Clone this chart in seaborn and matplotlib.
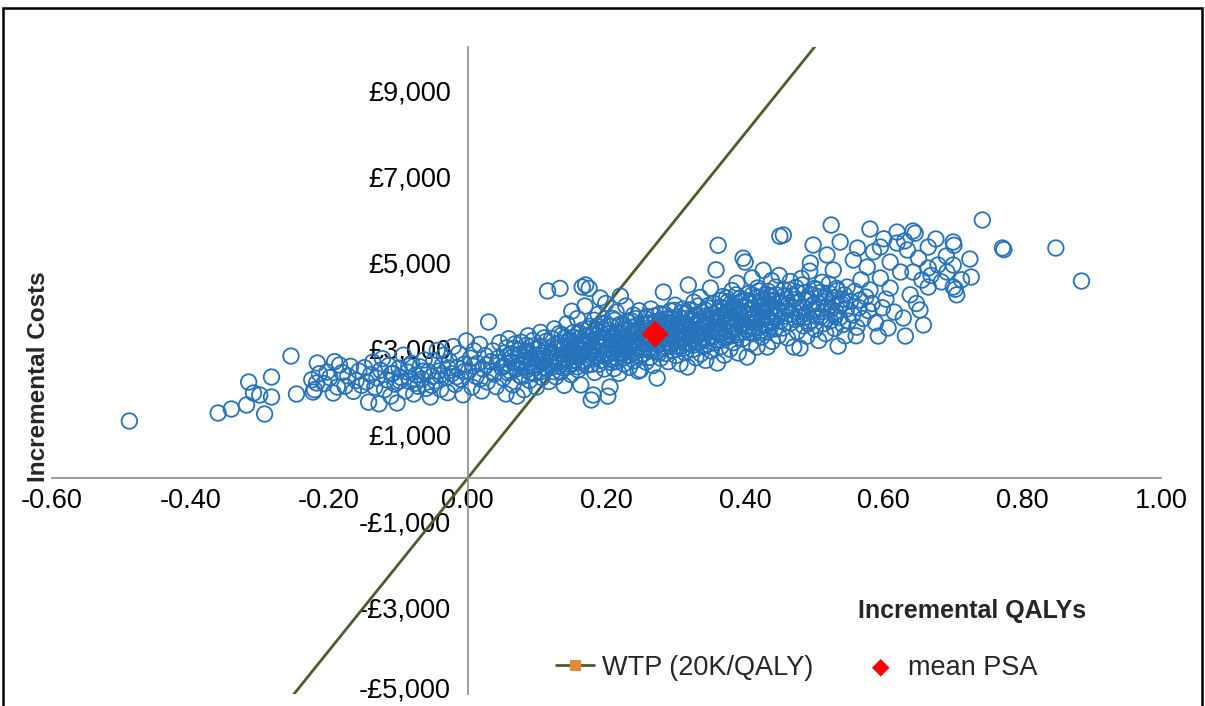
import pandas as pd
import matplotlib.pyplot as plt
import seaborn as sns
from matplotlib.patches import Rectangle
from matplotlib.ticker import FixedLocator
from matplotlib.transforms import ScaledTranslation

# PSA scatter (qaly, cost)
left_tail = [(-0.488, 1322), (-0.360, 1508), (-0.341, 1601), (-0.319, 1694), (-0.316, 2227),
             (-0.309, 1972), (-0.300, 1926), (-0.293, 1485), (-0.283, 2343), (-0.283, 1879),
             (-0.255, 2830), (-0.247, 1949), (-0.217, 2668), (-0.218, 2204), (-0.223, 1995),
             (-0.203, 2459), (-0.185, 2622), (-0.194, 1972), (-0.188, 2111)]

band_a = [(-0.225, 2280), (-0.221, 2050), (-0.214, 2420), (-0.207, 2190), (-0.199, 2330),
          (-0.192, 2700), (-0.181, 2450), (-0.177, 2130), (-0.173, 2370), (-0.169, 2590),
          (-0.165, 2010), (-0.161, 2260), (-0.157, 2480), (-0.153, 2150)]

band_b = [(-0.149, 2560), (-0.146, 2230), (-0.143, 1760), (-0.140, 2400), (-0.137, 2690),
          (-0.134, 2110), (-0.131, 2320), (-0.128, 1720), (-0.126, 2500), (-0.123, 2770),
          (-0.120, 2050), (-0.117, 2280), (-0.114, 2610), (-0.111, 1900), (-0.108, 2430),
          (-0.105, 2180), (-0.102, 1740), (-0.099, 2550), (-0.096, 2330), (-0.093, 2850),
          (-0.090, 2020), (-0.087, 2460), (-0.084, 2240), (-0.081, 2660), (-0.078, 1950),
          (-0.075, 2390), (-0.072, 2130), (-0.069, 2580), (-0.066, 2300), (-0.063, 2740),
          (-0.060, 2080), (-0.057, 2470), (-0.054, 1880), (-0.051, 2360)]

band_c = [(-0.049, 2720), (-0.047, 2250), (-0.044, 2960), (-0.042, 2480), (-0.039, 2060),
          (-0.037, 2610), (-0.034, 2850), (-0.031, 2330), (-0.029, 1980), (-0.026, 2700),
          (-0.023, 2420), (-0.021, 3050), (-0.018, 2170), (-0.015, 2560), (-0.013, 2890),
          (-0.010, 2290), (-0.007, 1930), (-0.005, 2640), (-0.002, 3180), (0.001, 2480),
          (0.004, 2780), (0.006, 2110), (0.009, 2950), (0.012, 2360), (0.014, 2660),
          (0.017, 3100), (0.020, 2020), (0.022, 2530), (0.025, 2840), (0.028, 2230),
          (0.030, 3620), (0.033, 2700), (0.036, 2950), (0.038, 2410), (0.041, 2120),
          (0.044, 2780), (0.046, 3140), (0.049, 2560)]

band_d = [(0.051, 2320), (0.053, 2900), (0.055, 1950), (0.057, 2650), (0.059, 3230),
          (0.061, 2480), (0.063, 2790), (0.065, 2160), (0.067, 3010), (0.069, 2570),
          (0.071, 1900), (0.073, 2860), (0.075, 2380), (0.077, 3150), (0.079, 2700),
          (0.081, 2050), (0.083, 2930), (0.085, 2510), (0.087, 3300), (0.089, 2260),
          (0.091, 2780), (0.093, 3060), (0.095, 2420), (0.097, 2640), (0.099, 2110),
          (0.101, 2990), (0.103, 2850), (0.105, 3380), (0.107, 2330), (0.109, 2720),
          (0.111, 2560), (0.113, 3170), (0.115, 4340), (0.117, 2240), (0.119, 2890)]

band_e = [(0.121, 3240), (0.122, 2570), (0.124, 2800), (0.125, 3460), (0.127, 2350),
          (0.128, 2990), (0.130, 2680), (0.131, 3130), (0.133, 4400), (0.134, 2460),
          (0.136, 3320), (0.137, 2870), (0.139, 2150), (0.140, 3050), (0.142, 2740),
          (0.143, 3580), (0.145, 2580), (0.146, 3210), (0.148, 2930), (0.149, 2400),
          (0.150, 3870), (0.152, 3370), (0.153, 2660), (0.155, 3090), (0.156, 2820),
          (0.158, 3700), (0.159, 2510), (0.161, 3240), (0.162, 2960), (0.163, 2160),
          (0.165, 3430), (0.166, 2730), (0.168, 3150), (0.169, 3990), (0.170, 4480),
          (0.171, 2610), (0.172, 3310), (0.174, 2880), (0.175, 4400), (0.176, 3520),
          (0.178, 1810), (0.179, 3060), (0.180, 2790), (0.182, 3660), (0.183, 2450),
          (0.185, 3200), (0.186, 2970), (0.188, 3800), (0.189, 2640), (0.191, 3380),
          (0.192, 3110), (0.194, 2860), (0.195, 3570), (0.197, 2530), (0.198, 3250),
          (0.199, 4050), (0.165, 4431), (0.191, 4176), (0.181, 1926)]

band_f = [(0.201, 2870), (0.202, 1900), (0.203, 3430), (0.205, 2110), (0.206, 3100),
          (0.207, 2680), (0.209, 3700), (0.210, 3290), (0.211, 2540), (0.213, 3010),
          (0.214, 3850), (0.215, 2790), (0.217, 3360), (0.218, 2430), (0.220, 4220),
          (0.221, 3160), (0.222, 2920), (0.224, 3560), (0.225, 2650), (0.226, 3240),
          (0.228, 3990), (0.229, 2830), (0.231, 3420), (0.232, 3070), (0.233, 2570),
          (0.235, 3650), (0.236, 3180), (0.237, 2960), (0.239, 3780), (0.240, 2720),
          (0.242, 3330), (0.243, 3520), (0.244, 3010), (0.246, 2480), (0.247, 3880),
          (0.249, 2510), (0.250, 3240), (0.252, 3450), (0.253, 2880), (0.254, 3110),
          (0.256, 3700), (0.257, 2690), (0.259, 3360), (0.260, 3560), (0.261, 3000),
          (0.263, 2800), (0.264, 3920), (0.266, 3230), (0.267, 2610), (0.268, 3470),
          (0.270, 3140), (0.271, 3620), (0.273, 2320), (0.274, 2950), (0.275, 3380),
          (0.277, 3810), (0.278, 2780), (0.279, 3260), (0.281, 3540), (0.282, 4315),
          (0.284, 3050), (0.285, 2890), (0.286, 3690), (0.288, 3310)]

band_g = [(0.289, 2700), (0.290, 3440), (0.292, 3880), (0.293, 3120), (0.295, 2960),
          (0.296, 3600), (0.297, 3280), (0.299, 4010), (0.300, 2840), (0.302, 3510),
          (0.303, 3190), (0.304, 3740), (0.306, 2650), (0.307, 3380), (0.308, 3060),
          (0.310, 3920), (0.311, 3570), (0.313, 2910), (0.314, 3240), (0.315, 3830),
          (0.317, 2575), (0.318, 4478), (0.319, 3420), (0.321, 3110), (0.322, 3680),
          (0.324, 2980), (0.325, 3550), (0.326, 4080), (0.328, 3300), (0.329, 2790),
          (0.330, 3760), (0.332, 3170), (0.333, 3460), (0.335, 4190), (0.336, 2880),
          (0.337, 3620), (0.339, 3350), (0.340, 3050), (0.342, 3900), (0.343, 2730),
          (0.344, 3520), (0.346, 3240), (0.347, 4000), (0.349, 3710), (0.350, 4408),
          (0.351, 2950), (0.353, 3430), (0.354, 3800), (0.355, 3140), (0.357, 3590),
          (0.358, 4830), (0.360, 2668), (0.361, 5400), (0.362, 3330), (0.364, 3960),
          (0.365, 3050), (0.366, 3680), (0.368, 4210), (0.369, 3480), (0.370, 2850)]

band_h = [(0.372, 3790), (0.373, 3260), (0.375, 4090), (0.376, 3550), (0.378, 2990),
          (0.379, 3870), (0.381, 4350), (0.382, 3410), (0.383, 3140), (0.385, 3970),
          (0.386, 3660), (0.388, 4520), (0.389, 3320), (0.390, 2900), (0.392, 3840),
          (0.393, 4170), (0.395, 3530), (0.396, 3230), (0.397, 5100), (0.399, 4000),
          (0.400, 5010), (0.401, 3700), (0.403, 2807), (0.404, 3440), (0.405, 4280),
          (0.407, 3910), (0.408, 3120), (0.410, 4640), (0.411, 3600), (0.412, 3350),
          (0.414, 4070), (0.415, 3790), (0.417, 3040), (0.418, 4410), (0.419, 3480),
          (0.421, 3950), (0.422, 4200), (0.424, 3270), (0.425, 3720), (0.426, 4820),
          (0.428, 3570), (0.429, 4030), (0.431, 3390), (0.432, 3039), (0.433, 4330),
          (0.435, 3850), (0.436, 3630), (0.438, 4580), (0.439, 3170), (0.440, 4120),
          (0.442, 3760), (0.443, 3460), (0.445, 4250), (0.446, 3920), (0.448, 3300),
          (0.449, 4700), (0.450, 5610), (0.451, 3640)]

band_i = [(0.452, 4060), (0.454, 3480), (0.455, 5638), (0.456, 4370), (0.458, 3760),
          (0.460, 4150), (0.461, 3250), (0.463, 3950), (0.465, 4560), (0.466, 3600),
          (0.468, 4230), (0.470, 3039), (0.471, 3870), (0.473, 4420), (0.475, 3400),
          (0.476, 4090), (0.478, 3730), (0.479, 3016), (0.481, 4630), (0.483, 3980),
          (0.484, 3530), (0.486, 4300), (0.488, 3820), (0.489, 3290), (0.491, 4160),
          (0.493, 4800), (0.494, 4988), (0.496, 3660), (0.498, 5406), (0.499, 4040),
          (0.501, 3450), (0.503, 4370), (0.504, 3900), (0.506, 3190), (0.508, 4200),
          (0.509, 3740), (0.511, 4540), (0.513, 3580), (0.514, 4080), (0.516, 3350),
          (0.518, 5174), (0.519, 3960), (0.521, 4290), (0.523, 3650), (0.524, 5870),
          (0.526, 4120), (0.527, 4826), (0.529, 3470), (0.531, 3860), (0.532, 4400),
          (0.534, 3062), (0.536, 3720), (0.537, 5475), (0.539, 4040), (0.541, 3560),
          (0.543, 4250), (0.544, 3300), (0.546, 3920), (0.547, 4431), (0.549, 3640)]

# the solid middle of the cloud
core_fill = [(-0.110, 2420), (-0.098, 2250), (-0.085, 2600), (-0.076, 2200), (-0.064, 2480),
             (-0.052, 2150), (-0.040, 2380), (-0.028, 2550), (-0.016, 2350), (-0.004, 2480),
             (0.008, 2600), (0.018, 2300), (0.027, 2620), (0.035, 2470), (0.043, 2680),
             (0.052, 2610), (0.056, 3020), (0.058, 2440), (0.062, 2870), (0.064, 2700),
             (0.068, 3110), (0.070, 2530), (0.074, 2960), (0.076, 2650), (0.078, 2350),
             (0.082, 2800), (0.084, 3080), (0.086, 2590), (0.088, 2920), (0.090, 2450),
             (0.092, 2690), (0.094, 3190), (0.096, 2840), (0.098, 2560), (0.100, 2760),
             (0.102, 2630), (0.104, 3060), (0.106, 2470), (0.108, 2900), (0.110, 3250),
             (0.112, 2780), (0.114, 2540), (0.116, 3020), (0.118, 2690), (0.120, 2910),
             (0.123, 2470), (0.126, 3100), (0.129, 2830), (0.132, 2600), (0.135, 3040),
             (0.138, 2760), (0.141, 3270), (0.144, 2900), (0.147, 2630), (0.150, 3120),
             (0.126, 2700), (0.132, 3350), (0.138, 2550), (0.144, 3150), (0.149, 2810),
             (0.151, 2990), (0.153, 2720), (0.154, 3260), (0.157, 3020), (0.158, 2580),
             (0.160, 3380), (0.161, 2850), (0.164, 3120), (0.166, 2990), (0.167, 2680),
             (0.169, 3280), (0.171, 3050), (0.173, 2780), (0.174, 3460), (0.176, 2920),
             (0.177, 3180), (0.179, 2640), (0.181, 3330), (0.182, 3010), (0.184, 2850),
             (0.186, 3520), (0.187, 3140), (0.189, 2900), (0.190, 3410), (0.192, 2730),
             (0.193, 3260), (0.195, 3040), (0.196, 2830), (0.198, 3600), (0.200, 3180),
             (0.201, 3340), (0.203, 2990), (0.204, 2760), (0.206, 3520), (0.207, 3230),
             (0.209, 2910), (0.210, 3080), (0.212, 3660), (0.213, 2700), (0.215, 3370),
             (0.216, 3150), (0.218, 2890), (0.219, 3560), (0.221, 3270), (0.222, 3040),
             (0.224, 2780), (0.225, 3460), (0.227, 3120), (0.228, 2950), (0.230, 3620),
             (0.231, 3290), (0.233, 3030), (0.234, 2840), (0.236, 3500), (0.237, 3360),
             (0.239, 3100), (0.240, 2920), (0.242, 3700), (0.243, 3220), (0.245, 3400),
             (0.247, 3060), (0.248, 2830), (0.251, 3580), (0.252, 3160), (0.254, 3320),
             (0.255, 2980), (0.257, 3480), (0.258, 3750), (0.260, 3120), (0.261, 3280),
             (0.263, 3600), (0.264, 2950), (0.266, 3430), (0.267, 3190), (0.269, 3760),
             (0.270, 3020), (0.272, 3350), (0.273, 3540), (0.275, 3100), (0.276, 2900),
             (0.278, 3660), (0.279, 3410), (0.281, 3230), (0.282, 3000), (0.284, 3800),
             (0.285, 3480), (0.287, 3160), (0.288, 3610), (0.290, 3300), (0.291, 3060),
             (0.293, 3720), (0.294, 3450), (0.296, 3180), (0.298, 3890), (0.301, 3320),
             (0.302, 3050), (0.304, 3600), (0.305, 3420), (0.307, 3170), (0.308, 3830),
             (0.310, 3270), (0.311, 3010), (0.313, 3560), (0.314, 3700), (0.316, 3340),
             (0.317, 3150), (0.319, 3900), (0.320, 3480), (0.322, 3220), (0.323, 3640),
             (0.325, 3080), (0.326, 3400), (0.328, 3780), (0.329, 3560), (0.331, 3290),
             (0.332, 3990), (0.334, 3150), (0.335, 3680), (0.337, 3420), (0.338, 3850),
             (0.340, 3250), (0.341, 3590), (0.343, 3760), (0.344, 3360), (0.346, 3100),
             (0.348, 3940), (0.351, 3540), (0.352, 3300), (0.354, 3720), (0.355, 4050),
             (0.357, 3410), (0.358, 3200), (0.360, 3860), (0.361, 3600), (0.363, 3350),
             (0.364, 4120), (0.366, 3490), (0.367, 3760), (0.369, 3250), (0.370, 3940),
             (0.372, 3620), (0.373, 4180), (0.375, 3400), (0.376, 3820), (0.378, 3560),
             (0.379, 4040), (0.381, 3300), (0.382, 3720), (0.384, 3960), (0.385, 3480),
             (0.387, 4250), (0.388, 3640), (0.390, 3900), (0.391, 3380), (0.393, 3780),
             (0.394, 4100), (0.396, 3590), (0.398, 3850), (0.401, 4120), (0.402, 3520),
             (0.404, 3810), (0.405, 3380), (0.407, 4040), (0.408, 3680), (0.410, 4250),
             (0.411, 3940), (0.413, 3500), (0.414, 3760), (0.416, 4190), (0.417, 3620),
             (0.419, 3880), (0.420, 4340), (0.422, 3420), (0.423, 4000), (0.425, 3700),
             (0.426, 4150), (0.428, 3860), (0.429, 3540), (0.431, 4260), (0.432, 3720),
             (0.434, 4050), (0.435, 3450), (0.437, 3950), (0.438, 4210), (0.440, 3640),
             (0.442, 3860), (0.444, 4430), (0.447, 3750), (0.452, 3870), (0.455, 4210),
             (0.458, 3600), (0.461, 4000), (0.464, 4360), (0.467, 3800), (0.470, 4140),
             (0.473, 3680), (0.476, 4300), (0.479, 3920), (0.482, 4480), (0.485, 3730),
             (0.488, 4110), (0.491, 3580), (0.494, 4260), (0.497, 3880), (0.500, 4400),
             (0.503, 3750), (0.506, 4050), (0.509, 4310), (0.512, 3860), (0.515, 4200),
             (0.518, 3690), (0.521, 4500), (0.524, 3920), (0.527, 4180), (0.530, 3760),
             (0.533, 4350), (0.536, 4000), (0.540, 4150)]

upper_right = [(0.552, 4100), (0.555, 3780), (0.558, 4330), (0.561, 3500), (0.564, 3950),
               (0.567, 4600), (0.570, 3700), (0.574, 4200), (0.578, 3880), (0.583, 4050),
               (0.588, 3600), (0.598, 3950), (0.603, 4150), (0.615, 3850), (0.638, 4250),
               (0.647, 4050), (0.668, 4700), (0.683, 4550), (0.705, 4250), (0.712, 4600),
               (0.690, 5150), (0.585, 5250), (0.600, 5550), (0.650, 5100), (0.630, 5500),
               (0.560, 3300), (0.580, 5777), (0.619, 5707), (0.642, 5730), (0.645, 5680),
               (0.675, 5545), (0.700, 5475), (0.701, 5400), (0.742, 5986), (0.771, 5336),
               (0.773, 5300), (0.848, 5336), (0.885, 4570), (0.724, 5081), (0.726, 4663),
               (0.700, 4431), (0.703, 4380), (0.664, 4431), (0.678, 4942), (0.652, 3898),
               (0.657, 3550), (0.628, 3712), (0.631, 3294), (0.606, 3480), (0.592, 3294),
               (0.562, 5336), (0.595, 5359), (0.619, 5452), (0.634, 5290), (0.664, 5359),
               (0.700, 4942), (0.691, 4779), (0.576, 4895), (0.595, 4640), (0.609, 4408),
               (0.580, 4362), (0.624, 4779), (0.642, 4779), (0.655, 4594), (0.566, 4130),
               (0.609, 5011), (0.556, 5058), (0.664, 4872)]

# WTP threshold line (20K per QALY) and mean of the PSA
wtp_qaly = [-0.30, 0.55]
wtp_cost = [-6000, 11000]
mean_qaly = [0.27]
mean_cost = [3340]

x_ticks = [-0.6, -0.4, -0.2, 0.0, 0.2, 0.4, 0.6, 0.8, 1.0]
y_ticks = [-5000, -3000, -1000, 1000, 3000, 5000, 7000, 9000]

psa = pd.DataFrame(left_tail + band_a + band_b + band_c + band_d + band_e + band_f
                   + band_g + band_h + band_i + core_fill + upper_right,
                   columns=["qaly", "cost"])

sns.set_style("white")
plt.rcParams["font.family"] = ["Liberation Sans", "DejaVu Sans"]

fig = plt.figure(figsize=(12.05, 7.06), dpi=100)
ax = fig.add_axes([0.0429, 0.0177, 0.9208, 0.9157])

blue = "#2673bb"
green = "#4a5e2c"

sns.lineplot(x=wtp_qaly, y=wtp_cost, ax=ax, color=green, linewidth=2,
             marker="s", markersize=6, markerfacecolor="#e58a3a", markeredgecolor="#e58a3a",
             label="WTP (20K/QALY)", zorder=2)
sns.scatterplot(data=psa, x="qaly", y="cost", ax=ax, s=125, marker="o",
                facecolors="none", edgecolor=blue, linewidth=1.3, zorder=3, legend=False)
sns.scatterplot(x=mean_qaly, y=mean_cost, ax=ax, marker="D", s=190, color="#ff0000",
                edgecolor="none", label="mean PSA", zorder=4)

ax.set_xlim(-0.6, 1.0)
ax.set_ylim(-5000, 10000)

for side in ["top", "right"]:
    ax.spines[side].set_visible(False)
ax.spines["left"].set_position(("data", 0))
ax.spines["bottom"].set_position(("data", 0))
for side in ["left", "bottom"]:
    ax.spines[side].set_color("#8c8c8c")
    ax.spines[side].set_linewidth(1.2)

ax.xaxis.set_major_locator(FixedLocator(x_ticks))
ax.yaxis.set_major_locator(FixedLocator(y_ticks))
ax.set_xticklabels([f"{v:.2f}" for v in x_ticks])
ax.set_yticklabels([("-£" if v < 0 else "£") + f"{abs(v):,}" for v in y_ticks])
ax.tick_params(axis="both", direction="out", length=6, width=1.2, color="#8c8c8c",
               labelsize=19.5, labelcolor="black")
ax.tick_params(axis="x", pad=1.5)
ax.tick_params(axis="y", pad=6)
ax.set_xlabel("")
ax.set_ylabel("")

# bottom y label sits right at the lower edge; nudge it up a few pixels
low_label = ax.get_yticklabels()[0]
low_label.set_transform(low_label.get_transform() + ScaledTranslation(0, 4 / 72, fig.dpi_scale_trans))

fig.text(0.032, 0.466, "Incremental Costs", rotation=90, ha="center", va="center",
         fontsize=17.5, fontweight="bold")
fig.text(0.807, 0.135, "Incremental QALYs", ha="center", va="center",
         fontsize=18, fontweight="bold")

leg = ax.legend(loc="center", bbox_to_anchor=(0.661, 0.054), bbox_transform=fig.transFigure,
                ncol=2, frameon=False, fontsize=19.5, handlelength=1.4, handletextpad=0.3,
                columnspacing=1.8)
leg.legend_handles[0].set_markersize(7)
leg.legend_handles[1].set_sizes([80])

fig.patches.append(Rectangle((0.0025, -0.01), 0.995, 0.998,
                             transform=fig.transFigure, fill=False, edgecolor="black",
                             linewidth=1.8))

fig.savefig("out.png", dpi=100)
